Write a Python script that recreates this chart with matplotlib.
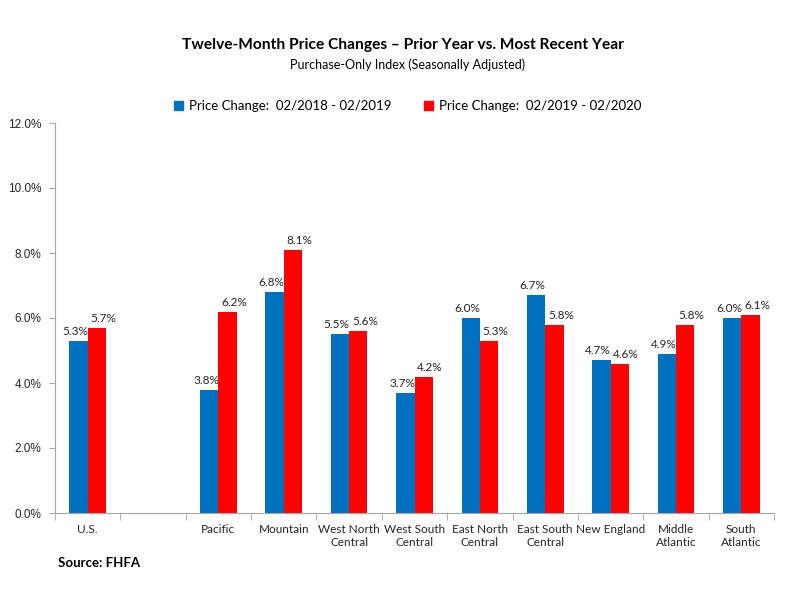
import matplotlib.pyplot as plt
from matplotlib.patches import Patch
import numpy as np

regions = ["U.S.", "", "Pacific", "Mountain", "West North\nCentral", "West South\nCentral",
           "East North\nCentral", "East South\nCentral", "New England", "Middle\nAtlantic",
           "South\nAtlantic"]
prior = [5.3, None, 3.8, 6.8, 5.5, 3.7, 6.0, 6.7, 4.7, 4.9, 6.0]
recent = [5.7, None, 6.2, 8.1, 5.6, 4.2, 5.3, 5.8, 4.6, 5.8, 6.1]
label_prior = "Price Change:  02/2018 - 02/2019"
label_recent = "Price Change:  02/2019 - 02/2020"

BLUE = "#0070C0"
RED = "#FF0000"
TXT = "#262626"
CAT_FONT = "Lato"
NUM_FONT = "Liberation Sans"

fig = plt.figure(figsize=(7.99, 5.89), dpi=100)
ax = fig.add_axes([55 / 799, 76 / 589, 719 / 799, 390 / 589])

x = np.arange(len(regions))
w = 0.28
for i in range(len(regions)):
    if prior[i] is None:
        continue
    ax.bar(x[i] - w / 2, prior[i], w, color=BLUE)
    ax.bar(x[i] + w / 2, recent[i], w, color=RED)
    ax.text(x[i] - w / 2 - 0.05, prior[i] + 0.12, f"{prior[i]:.1f}%", ha="center", va="bottom",
            fontsize=8.5, family=CAT_FONT, color=TXT)
    ax.text(x[i] + w / 2 + 0.1, recent[i] + 0.12, f"{recent[i]:.1f}%", ha="center", va="bottom",
            fontsize=8.5, family=CAT_FONT, color=TXT)

ax.set_xlim(-0.5, len(regions) - 0.5)
ax.set_ylim(0, 12)
ax.set_yticks(np.arange(0, 12.1, 2))
ax.set_yticklabels([f"{v:.1f}%" for v in np.arange(0, 12.1, 2)], family=NUM_FONT,
                   fontsize=8.5, color=TXT)

# category labels without ticks, tick marks at the boundaries
ax.set_xticks(x)
ax.set_xticklabels(regions, family=CAT_FONT, fontsize=8.5, color=TXT)
ax.tick_params(axis="x", length=0, pad=8)
ax.set_xticks(np.arange(-0.5, len(regions), 1), minor=True)
ax.tick_params(axis="x", which="minor", length=5, color="#A6A6A6", direction="out")
ax.tick_params(axis="y", length=4, color="#A6A6A6", pad=6)

for s in ["top", "right"]:
    ax.spines[s].set_visible(False)
for s in ["left", "bottom"]:
    ax.spines[s].set_color("#A6A6A6")

fig.text(0.505, 1 - 45 / 589, "Twelve-Month Price Changes \u2013 Prior Year vs. Most Recent Year",
         ha="center", va="center", fontsize=11.2, fontweight="bold", family=CAT_FONT, color="black")
fig.text(0.51, 1 - 65 / 589, "Purchase-Only Index (Seasonally Adjusted)",
         ha="center", va="center", fontsize=9, family=CAT_FONT, color="black")

handles = [Patch(color=BLUE, label=label_prior), Patch(color=RED, label=label_recent)]
fig.legend(handles=handles, loc="center", bbox_to_anchor=(0.51, 1 - 106 / 589), ncol=2,
           frameon=False, prop={"family": CAT_FONT, "size": 9.5}, handlelength=0.7,
           handleheight=0.7, handletextpad=0.4, columnspacing=2.5)

fig.text(58 / 799, 1 - 563 / 589, "Source: FHFA", ha="left", va="center",
         fontsize=9.5, fontweight="bold", family=CAT_FONT, color="black")

fig.savefig("out.png", dpi=100)
